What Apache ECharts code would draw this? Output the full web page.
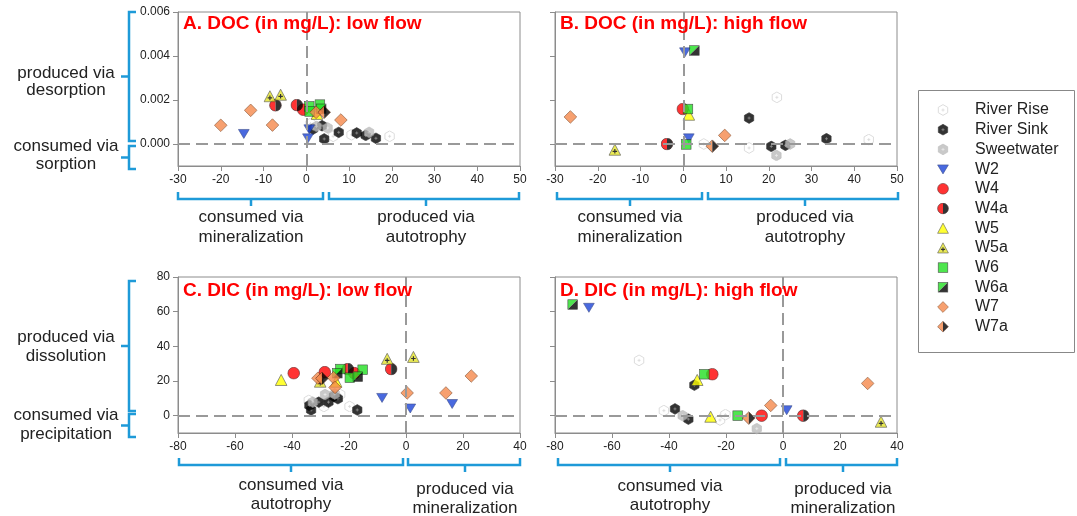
<!DOCTYPE html>
<html>
<head>
<meta charset="utf-8">
<script src="https://cdn.jsdelivr.net/npm/echarts@6/dist/echarts.min.js"></script>
<style>html,body{margin:0;padding:0;background:#fff}#c{width:1077px;height:516px}</style>
</head>
<body>
<div id="c"></div>
<script>
// ---------- DATA ----------
const stations = ['River Rise','River Sink','Sweetwater','W2','W4','W4a','W5','W5a','W6','W6a','W7','W7a'];
const panelTitles = ['A. DOC (in mg/L): low flow','B. DOC (in mg/L): high flow','C. DIC (in mg/L): low flow','D. DIC (in mg/L): high flow'];
const docTicks = [0, 0.002, 0.004, 0.006];
const dicTicks = [0, 20, 40, 60, 80];

// [station, x, y]
const docLowPoints = [
  ['River Rise', 6.3, 0.00035], ['River Rise', 10.6, 0.00042], ['River Rise', 19.5, 0.00035], ['River Rise', 1.0, 0.00093],
  ['River Sink', 1.6, 0.00068], ['River Sink', 3.7, 0.00083], ['River Sink', 4.2, 0.00023], ['River Sink', 7.6, 0.00053],
  ['River Sink', 11.8, 0.0005], ['River Sink', 13.9, 0.00039], ['River Sink', 16.3, 0.00026],
  ['Sweetwater', 2.4, 0.0008], ['Sweetwater', 5.0, 0.00073], ['Sweetwater', 14.7, 0.00053],
  ['W2', -14.6, 0.00047], ['W2', 0.7, 0.00068], ['W2', 0.4, 0.00027],
  ['W4', -0.7, 0.00156],
  ['W4a', -7.2, 0.00176], ['W4a', -2.2, 0.00177],
  ['W5', 2.5, 0.00137],
  ['W5a', -8.5, 0.00217], ['W5a', -6.0, 0.00224],
  ['W6', 0.7, 0.00171], ['W6', 3.2, 0.00179], ['W6', 0.8, 0.00148],
  ['W6a', 3.5, 0.0016],
  ['W7', -20.0, 0.00085], ['W7', -13.0, 0.00153], ['W7', -7.9, 0.00086], ['W7', 8.1, 0.00109], ['W7', 2.3, 0.00144],
  ['W7a', 4.2, 0.00144]
];
const docHighPoints = [
  ['River Rise', 4.8, 0.0], ['River Rise', 15.4, -0.00018], ['River Rise', 21.9, 0.00212], ['River Rise', 43.4, 0.0002],
  ['River Sink', 15.4, 0.00118], ['River Sink', 20.6, -0.00011], ['River Sink', 23.9, -0.00006], ['River Sink', 33.5, 0.00024],
  ['Sweetwater', 21.8, -0.00052], ['Sweetwater', 25.0, 0.0],
  ['W2', 0.4, 0.00418], ['W2', 1.3, 0.00027],
  ['W4', -0.1, 0.00159],
  ['W4a', -3.8, 0.0],
  ['W5', 1.3, 0.00133],
  ['W5a', -16.0, -0.00026],
  ['W6', 1.1, 0.00159], ['W6', 0.7, -0.00002],
  ['W6a', 2.6, 0.00425],
  ['W7', -26.4, 0.00123], ['W7', 9.7, 0.00039],
  ['W7a', 6.8, -0.0001]
];
const dicLowPoints = [
  ['River Rise', -34.1, 8.8], ['River Rise', -23.1, 12.2], ['River Rise', -19.8, 5.3], ['River Rise', -28.8, 5.3],
  ['River Sink', -33.3, 3.3], ['River Sink', -33.9, 5.9], ['River Sink', -30.6, 7.8], ['River Sink', -27.2, 7.8],
  ['River Sink', -25.3, 11.2], ['River Sink', -23.9, 9.8], ['River Sink', -17.1, 3.3],
  ['Sweetwater', -32.7, 7.8], ['Sweetwater', -28.4, 12.2], ['Sweetwater', -25.0, 12.5],
  ['W2', -8.4, 10.4], ['W2', 1.5, 4.3], ['W2', 16.2, 6.9],
  ['W4', -39.4, 24.5], ['W4', -28.5, 25.1], ['W4', -18.1, 24.5],
  ['W4a', -20.4, 26.9], ['W4a', -5.2, 26.9],
  ['W5', -43.8, 20.6], ['W5', -24.5, 19.6],
  ['W5a', -30.1, 19.6], ['W5a', -6.6, 32.8], ['W5a', 2.6, 33.9],
  ['W6', -23.0, 26.9], ['W6', -19.7, 21.9], ['W6', -15.2, 26.5],
  ['W6a', -24.1, 24.5], ['W6a', -16.9, 22.5],
  ['W7', -30.9, 21.6], ['W7', -25.4, 21.9], ['W7', -24.9, 16.3], ['W7', 0.4, 13.1], ['W7', 14.0, 13.1], ['W7', 22.9, 22.9],
  ['W7a', -29.5, 21.5]
];
const dicHighPoints = [
  ['River Rise', -50.5, 31.9], ['River Rise', -41.8, 2.9], ['River Rise', -22.1, -2.5], ['River Rise', -20.2, 0.6],
  ['River Sink', -31.1, 17.6], ['River Sink', -37.9, 3.9], ['River Sink', -33.2, -2.0],
  ['Sweetwater', -35.2, 0.0], ['Sweetwater', -9.2, -7.5],
  ['W2', -68.1, 62.4], ['W2', 1.3, 3.3],
  ['W4', -24.8, 23.9], ['W4', -7.5, 0.0],
  ['W4a', 7.1, 0.0],
  ['W5', -30.1, 20.6], ['W5', -25.4, -0.6],
  ['W5a', 34.4, -3.5],
  ['W6', -27.6, 23.9], ['W6', -15.9, 0.0],
  ['W6a', -73.8, 64.1],
  ['W7', -4.3, 5.9], ['W7', 29.7, 18.6],
  ['W7a', -12.0, -1.4]
];
const panels = [docLowPoints, docHighPoints, dicLowPoints, dicHighPoints];

// ---------- SYMBOLS ----------
function uri(s){ return 'image://data:image/svg+xml;charset=utf-8,' + encodeURIComponent('<svg xmlns="http://www.w3.org/2000/svg" width="20" height="20" viewBox="0 0 20 20">' + s + '</svg>'); }
const hexPts = '10,1 17.8,5.5 17.8,14.5 10,19 2.2,14.5 2.2,5.5';
const cross = c => `<path d="M10,7.5V12.5M7.5,10H12.5" stroke="${c}" stroke-width="1.3"/>`;
const symbolDefs = {
  'River Rise': [uri(`<polygon points="${hexPts}" fill="#fff" stroke="#cfcfcf" stroke-width="1.5"/>` + cross('#cfcfcf')), 12],
  'River Sink': [uri(`<polygon points="${hexPts}" fill="#000" stroke="#000" stroke-width="1"/>` + cross('#777')), 12],
  'Sweetwater': [uri(`<polygon points="${hexPts}" fill="#bcbcbc" stroke="#aaa" stroke-width="1"/>` + cross('#e6e6e6')), 12],
  'W2': [uri('<polygon points="1,3 19,3 10,18" fill="#1c44d8" stroke="#10256e" stroke-width="1"/>'), 12],
  'W4': [uri('<circle cx="10" cy="10" r="9" fill="#ff0000" stroke="#400" stroke-width="1"/>'), 13],
  'W4a': [uri('<path d="M10,1A9,9 0 0 0 10,19Z" fill="#ff0000"/><path d="M10,1A9,9 0 0 1 10,19Z" fill="#000"/><circle cx="10" cy="10" r="9" fill="none" stroke="#200" stroke-width="1"/>'), 13],
  'W5': [uri('<polygon points="10,1.5 19,18.5 1,18.5" fill="#ffff00" stroke="#333" stroke-width="1"/>'), 13],
  'W5a': [uri('<polygon points="10,1.5 19,18.5 1,18.5" fill="#e4e42a" stroke="#333" stroke-width="1"/><path d="M10,9V16M6.5,12.5H13.5" stroke="#000" stroke-width="1.8"/>'), 13],
  'W6': [uri('<rect x="2" y="2" width="16" height="16" fill="#22e022" stroke="#222" stroke-width="1"/>'), 12],
  'W6a': [uri('<polygon points="2,2 18,2 2,18" fill="#22e022"/><polygon points="18,2 18,18 2,18" fill="#000"/><rect x="2" y="2" width="16" height="16" fill="none" stroke="#222" stroke-width="1"/>'), 12],
  'W7': [uri('<polygon points="10,1 19,10 10,19 1,10" fill="#f5894b" stroke="#7a3e18" stroke-width="1"/>'), 14],
  'W7a': [uri('<polygon points="10,1 1,10 10,19" fill="#f5894b"/><polygon points="10,1 19,10 10,19" fill="#000"/><polygon points="10,1 19,10 10,19 1,10" fill="none" stroke="#5a2a10" stroke-width="1"/>'), 14]
};

// ---------- LAYOUT ----------
const FONT = '"Liberation Sans", Arial, sans-serif';
const grids = [
  {left: 178, top: 12, width: 342, height: 154},
  {left: 555, top: 12, width: 342, height: 154},
  {left: 178, top: 277, width: 342, height: 156},
  {left: 555, top: 277, width: 342, height: 156}
];
const xRanges = [[-30, 50, 10], [-30, 50, 10], [-80, 40, 20], [-80, 40, 20]];
const yRanges = [[-0.001, 0.006, 0.0005], [-0.001, 0.006, 0.0005], [-10, 80, 10], [-10, 80, 10]];
const axisColor = '#8c8c8c';

const xAxes = grids.map((g, i) => ({
  gridIndex: i, type: 'value', min: xRanges[i][0], max: xRanges[i][1], interval: xRanges[i][2],
  axisLine: {show: true, onZero: false, lineStyle: {color: axisColor}},
  axisTick: {show: true, length: 5, lineStyle: {color: axisColor}},
  axisLabel: {fontSize: 12, color: '#222', fontFamily: FONT, margin: 8},
  splitLine: {show: false}
}));
const yAxes = grids.map((g, i) => {
  const ticks = i < 2 ? docTicks : dicTicks;
  return {
    gridIndex: i, type: 'value', min: yRanges[i][0], max: yRanges[i][1], interval: yRanges[i][2],
    axisLine: {show: true, onZero: false, lineStyle: {color: axisColor}},
    axisTick: {show: true, length: 5, customValues: ticks, lineStyle: {color: axisColor}},
    axisLabel: {show: i % 2 === 0, customValues: ticks, fontSize: 12, color: '#222', fontFamily: FONT, margin: 8,
      formatter: v => i < 2 ? Number(v).toFixed(3) : String(v)},
    splitLine: {show: false}
  };
});

const series = [];
grids.forEach((g, i) => {
  series.push({
    type: 'scatter', xAxisIndex: i, yAxisIndex: i, data: [], z: 1, silent: true,
    markLine: {silent: true, symbol: 'none', label: {show: false}, animation: false,
      lineStyle: {color: '#999', width: 2, type: [12, 6]},
      data: [{xAxis: 0}, {yAxis: 0}]}
  });
  stations.forEach(s => {
    const pts = panels[i].filter(r => r[0] === s).map(r => [r[1], r[2]]);
    series.push({
      type: 'scatter', name: s, xAxisIndex: i, yAxisIndex: i, z: 3,
      symbol: symbolDefs[s][0], symbolSize: symbolDefs[s][1], symbolKeepAspect: true,
      data: pts
    });
  });
});

// ---------- ANNOTATIONS ----------
const blue = '#1e9ad8';
const graphics = [];
function pl(points){ graphics.push({type: 'polyline', shape: {points}, style: {stroke: blue, lineWidth: 2.5, fill: null}, z: 10}); }
function txt(x, y, t, opts){ graphics.push(Object.assign({type: 'text', x, y, style: {text: t, fill: '#222', font: '17px ' + FONT, textAlign: 'center', textVerticalAlign: 'middle'}, z: 10}, opts || {})); }
// left vertical brackets
function vBracket(x, y0, y1){ pl([[x + 7, y0], [x, y0], [x, y1], [x + 7, y1]]); pl([[x, (y0 + y1) / 2], [x - 8, (y0 + y1) / 2]]); }
vBracket(129, 12, 141); vBracket(129, 146, 169);
vBracket(129, 281, 411); vBracket(129, 414, 437);
txt(66, 73, 'produced via'); txt(66, 90, 'desorption');
txt(66, 146, 'consumed via'); txt(66, 164, 'sorption');
txt(66, 337, 'produced via'); txt(66, 356, 'dissolution');
txt(66, 415, 'consumed via'); txt(66, 434, 'precipitation');
// bottom horizontal brackets
function hBracket(x0, x1, y, midX){ const m = midX !== undefined ? midX : (x0 + x1) / 2; pl([[x0, y - 7], [x0, y], [x1, y], [x1, y - 7]]); pl([[m, y], [m, y + 7]]); }
hBracket(178, 323, 199, 251); hBracket(329, 519, 199, 426);
hBracket(557, 702, 199, 630); hBracket(708, 898, 199, 805);
hBracket(179, 403, 465, 291); hBracket(408, 520, 465, 465);
hBracket(558, 780, 465, 670); hBracket(786, 897, 465, 843);
txt(251, 217, 'consumed via'); txt(251, 237, 'mineralization');
txt(426, 217, 'produced via'); txt(426, 237, 'autotrophy');
txt(630, 217, 'consumed via'); txt(630, 237, 'mineralization');
txt(805, 217, 'produced via'); txt(805, 237, 'autotrophy');
txt(291, 485, 'consumed via'); txt(291, 504, 'autotrophy');
txt(465, 489, 'produced via'); txt(465, 508, 'mineralization');
txt(670, 486, 'consumed via'); txt(670, 505, 'autotrophy');
txt(843, 489, 'produced via'); txt(843, 508, 'mineralization');
// panel titles
const titlePos = [[183, 24], [560, 24], [183, 291], [560, 291]];
panelTitles.forEach((t, i) => graphics.push({type: 'text', x: titlePos[i][0], y: titlePos[i][1], z: 10,
  style: {text: t, fill: '#ff0000', font: 'bold 19px ' + FONT, textAlign: 'left', textVerticalAlign: 'middle'}}));
// legend frame
graphics.push({type: 'rect', shape: {x: 918.5, y: 90.5, width: 156, height: 262}, style: {stroke: '#888', lineWidth: 1, fill: null}, z: 0});

const chart = echarts.init(document.getElementById('c'), null, {renderer: 'canvas'});
chart.setOption({
  animation: false,
  grid: grids.map(g => Object.assign({show: true, borderColor: axisColor, borderWidth: 1, containLabel: false}, g)),
  xAxis: xAxes,
  yAxis: yAxes,
  legend: {
    data: stations, orient: 'vertical', left: 937, top: 102, itemWidth: 12, itemHeight: 12, itemGap: 3.7,
    selectedMode: false, padding: 0,
    textStyle: {fontSize: 16, color: '#222', fontFamily: FONT, lineHeight: 16, padding: [0, 0, 0, 21]}
  },
  graphic: graphics,
  series
});
</script>
</body>
</html>
